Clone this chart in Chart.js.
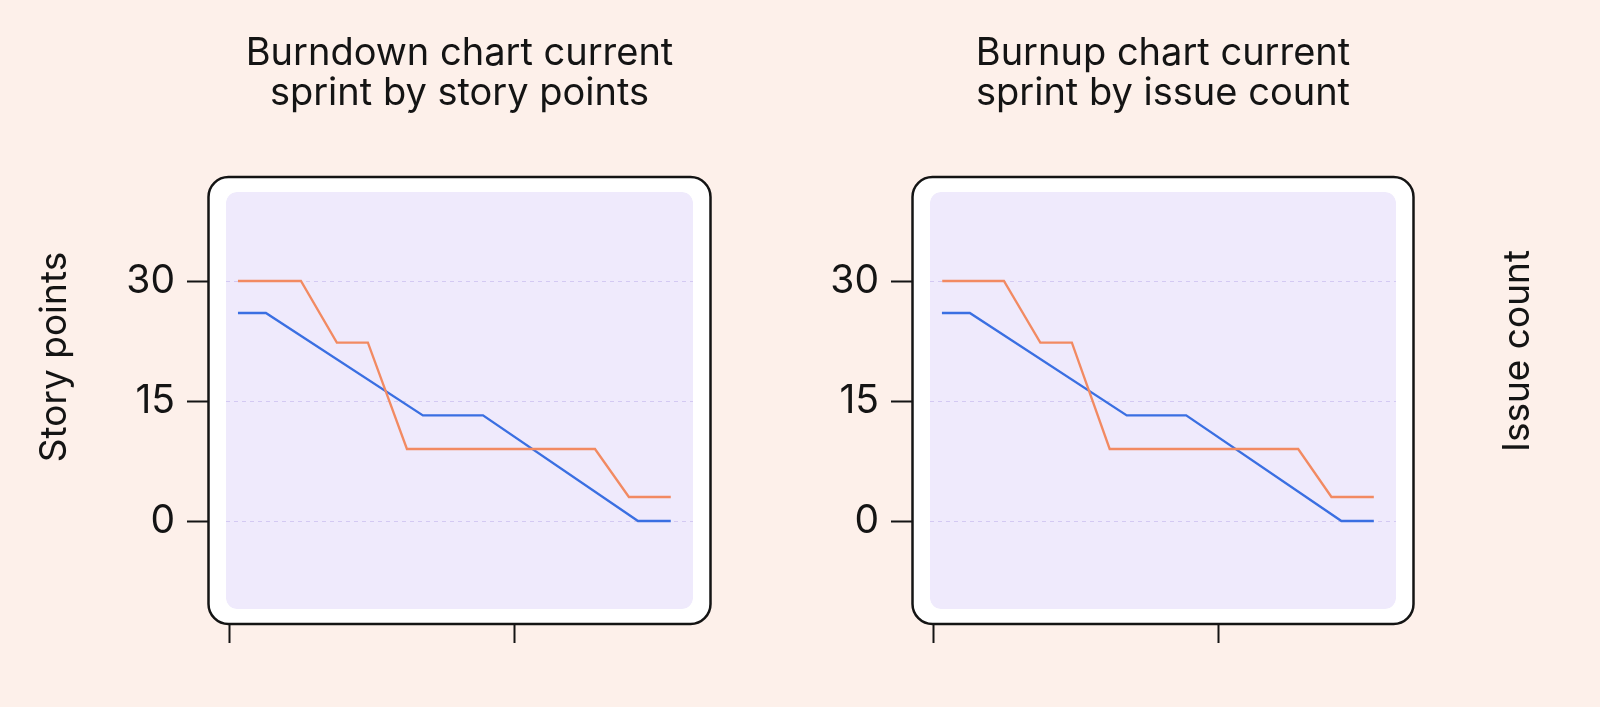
<!DOCTYPE html>
<html>
<head>
<meta charset="utf-8">
<script src="https://cdn.jsdelivr.net/npm/chart.js@4/dist/chart.umd.min.js"></script>
<style>
  html, body { margin: 0; padding: 0; background: #fdf0ea; }
  body { width: 1600px; height: 707px; position: relative; overflow: hidden; }
  canvas { position: absolute; top: 0; }
  #burndown { left: 0; }
  #burnup { left: 800px; }
</style>
</head>
<body>
<canvas id="burndown" width="800" height="707"></canvas>
<canvas id="burnup" width="800" height="707"></canvas>
<script>
// ticks
const xTickValues = [0, 10];
const yTickValues = [0, 15, 30];

// Burndown - story points
const burndownOrangeX = [0.28, 2.49, 3.75, 4.84, 6.21, 12.81, 14.0, 15.47];
const burndownOrangeY = [30, 30, 22.3, 22.3, 9, 9, 3, 3];
const burndownBlueX = [0.28, 1.26, 6.77, 8.88, 14.32, 15.47];
const burndownBlueY = [26, 26, 13.2, 13.2, 0, 0];

// Burnup - issue count
const burnupOrangeX = [0.29, 2.46, 3.74, 4.85, 6.18, 12.81, 13.98, 15.47];
const burnupOrangeY = [30, 30, 22.3, 22.3, 9, 9, 3, 3];
const burnupBlueX = [0.28, 1.26, 6.78, 8.87, 14.33, 15.47];
const burnupBlueY = [26, 26, 13.2, 13.2, 0, 0];

const FONT = "Inter, 'Noto Sans', sans-serif";
const INK = "#141414";

function toPoints(xs, ys) {
    return xs.map((x, i) => ({ x: x, y: ys[i] }));
}

function roundRect(ctx, x, y, w, h, r) {
    ctx.moveTo(x + r, y);
    ctx.arcTo(x + w, y, x + w, y + h, r);
    ctx.arcTo(x + w, y + h, x, y + h, r);
    ctx.arcTo(x, y + h, x, y, r);
    ctx.arcTo(x, y, x + w, y, r);
    ctx.closePath();
}

// white card with black outline, lavender plot area inside
const cardPlugin = {
    id: "card",
    beforeDraw(chart) {
        const { ctx, chartArea: a } = chart;
        ctx.save();
        ctx.beginPath();
        roundRect(ctx, a.left - 17.5, a.top - 15, a.right - a.left + 35, a.bottom - a.top + 30, 20);
        ctx.fillStyle = "#ffffff";
        ctx.fill();
        ctx.beginPath();
        roundRect(ctx, a.left, a.top, a.right - a.left, a.bottom - a.top, 11);
        ctx.fillStyle = "#efeafc";
        ctx.fill();
        ctx.restore();
    },
    beforeDatasetsDraw(chart) {
        // cover the tick marks inside the card, then outline it
        const { ctx, chartArea: a } = chart;
        ctx.save();
        ctx.beginPath();
        roundRect(ctx, a.left - 17.5, a.top - 15, a.right - a.left + 35, a.bottom - a.top + 30, 20);
        roundRect(ctx, a.left, a.top, a.right - a.left, a.bottom - a.top, 11);
        ctx.fillStyle = "#ffffff";
        ctx.fill("evenodd");
        ctx.beginPath();
        roundRect(ctx, a.left - 17.5, a.top - 15, a.right - a.left + 35, a.bottom - a.top + 30, 20);
        ctx.lineWidth = 2.5;
        ctx.strokeStyle = INK;
        ctx.stroke();
        ctx.restore();
    }
};

// vertical axis caption
const sideTitlePlugin = {
    id: "sideTitle",
    afterDraw(chart, args, opts) {
        const ctx = chart.ctx;
        ctx.save();
        ctx.translate(opts.x, opts.y);
        ctx.rotate(-Math.PI / 2);
        ctx.font = "400 37px " + FONT;
        ctx.fillStyle = INK;
        ctx.textAlign = "center";
        ctx.textBaseline = "middle";
        ctx.fillText(opts.text, 0, 0);
        ctx.restore();
    }
};

function makeChart(id, title, orange, blue, axisWidth, padRight, side) {
    const ctx = document.getElementById(id).getContext("2d");
    return new Chart(ctx, {
        type: "line",
        data: {
            datasets: [{
                data: orange,
                borderColor: "#f28a62",
                borderWidth: 2.3,
                pointRadius: 0,
                tension: 0,
                fill: false
            }, {
                data: blue,
                borderColor: "#3a6fe2",
                borderWidth: 2.3,
                pointRadius: 0,
                tension: 0,
                fill: false
            }]
        },
        options: {
            responsive: false,
            animation: false,
            devicePixelRatio: 1,
            layout: { padding: { left: 0, top: 0, right: padRight, bottom: 0 } },
            plugins: {
                legend: { display: false },
                tooltip: { enabled: false },
                title: {
                    display: true,
                    fullSize: false,
                    text: title,
                    color: INK,
                    font: { family: FONT, size: 38, weight: "400", lineHeight: 40 / 38 },
                    padding: { top: 34, bottom: 78 }
                },
                sideTitle: side
            },
            scales: {
                x: {
                    type: "linear",
                    position: "bottom",
                    min: -0.14,
                    max: 16.25,
                    afterBuildTicks: s => { s.ticks = xTickValues.map(v => ({ value: v })); },
                    afterFit: s => { s.height = 98; },
                    ticks: { display: false },
                    border: { display: false },
                    grid: {
                        drawOnChartArea: false,
                        drawTicks: true,
                        tickLength: 34,
                        tickColor: INK,
                        tickWidth: 2
                    }
                },
                y: {
                    type: "linear",
                    position: "left",
                    min: -11,
                    max: 41.125,
                    afterBuildTicks: s => { s.ticks = yTickValues.map(v => ({ value: v })); },
                    afterFit: s => { s.width = axisWidth; },
                    ticks: {
                        color: INK,
                        padding: 12,
                        font: { family: FONT, size: 39, weight: "400" }
                    },
                    border: { display: false, dash: [4, 4] },
                    grid: {
                        color: "#d3c9f2",
                        lineWidth: 1,
                        drawTicks: true,
                        tickLength: 39,
                        tickColor: INK,
                        tickWidth: 2,
                        tickBorderDash: []
                    }
                }
            }
        },
        plugins: [cardPlugin, sideTitlePlugin]
    });
}

makeChart("burndown", ["Burndown chart current", "sprint by story points"],
    toPoints(burndownOrangeX, burndownOrangeY), toPoints(burndownBlueX, burndownBlueY),
    226, 107, { text: "Story points", x: 55, y: 357 });

makeChart("burnup", ["Burnup chart current", "sprint by issue count"],
    toPoints(burnupOrangeX, burnupOrangeY), toPoints(burnupBlueX, burnupBlueY),
    130, 204, { text: "Issue count", x: 718, y: 351 });
</script>
</body>
</html>
